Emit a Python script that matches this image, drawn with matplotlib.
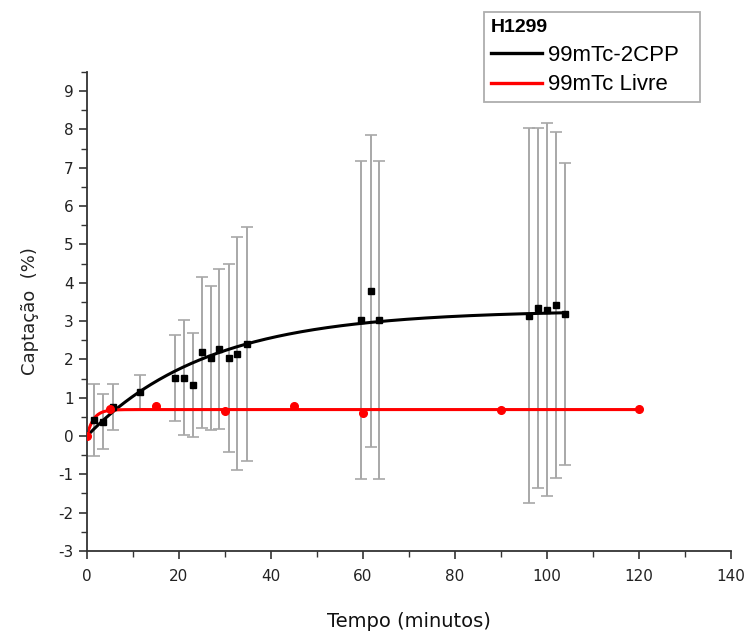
import matplotlib
matplotlib.use('Agg')
import matplotlib.pyplot as plt
import numpy as np
from matplotlib.lines import Line2D
from matplotlib.ticker import MultipleLocator

plt.rcParams['axes.unicode_minus'] = False

# 99mTc-2CPP: tempo, media e desvio
t_cpp = [1.5, 3.5, 5.7, 11.5, 19.1, 21.1, 23.0, 25.0, 27.0, 28.7, 30.9, 32.6, 34.8,
         59.6, 61.7, 63.5, 96.1, 98.1, 100.0, 102.0, 103.9]
y_cpp = [0.42, 0.37, 0.75, 1.15, 1.52, 1.52, 1.33, 2.18, 2.03, 2.27, 2.03, 2.15, 2.40,
         3.03, 3.78, 3.03, 3.14, 3.34, 3.30, 3.42, 3.18]
e_cpp = [0.95, 0.72, 0.60, 0.44, 1.12, 1.50, 1.36, 1.98, 1.88, 2.10, 2.45, 3.05, 3.05,
         4.14, 4.07, 4.14, 4.90, 4.71, 4.87, 4.52, 3.94]

# 99mTc livre
t_livre = [0, 5, 15, 30, 45, 60, 90, 120]
y_livre = [0.0, 0.70, 0.78, 0.65, 0.78, 0.60, 0.68, 0.70]

# parametros do ajuste exponencial y = A*(1-exp(-k t))
ajuste_cpp = (3.28, 0.038)
ajuste_livre = (0.69, 0.70)


def curva(t, p):
    return p[0] * (1 - np.exp(-p[1] * t))


fig = plt.figure(figsize=(7.46, 6.34), dpi=100)
ax = fig.add_axes([0.1166, 0.131, 0.8634, 0.7554])

ax.errorbar(t_cpp, y_cpp, yerr=e_cpp, fmt='none', ecolor='#a8a8a8', elinewidth=1.4,
            capsize=4, capthick=1.2, zorder=1)
ax.plot(t_cpp, y_cpp, 's', color='black', ms=5, zorder=3)
tt = np.linspace(0, max(t_cpp), 300)
ax.plot(tt, curva(tt, ajuste_cpp), color='black', lw=2.2, zorder=2)

ax.plot(t_livre, y_livre, 'o', color='red', ms=5.5, zorder=3)
tt2 = np.linspace(0, max(t_livre), 600)
ax.plot(tt2, curva(tt2, ajuste_livre), color='red', lw=2.2, zorder=2)

ax.set_xlim(0, 140)
ax.set_ylim(-3, 9.5)
ax.xaxis.set_major_locator(MultipleLocator(20))
ax.xaxis.set_minor_locator(MultipleLocator(10))
ax.yaxis.set_major_locator(MultipleLocator(1))
ax.yaxis.set_minor_locator(MultipleLocator(0.5))
for s in ['top', 'right']:
    ax.spines[s].set_visible(False)
for s in ['left', 'bottom']:
    ax.spines[s].set_color('#333333')
    ax.spines[s].set_linewidth(1.3)
ax.tick_params(which='major', direction='out', length=6, width=1.2, color='#333333',
               labelsize=11, labelcolor='#222222')
ax.tick_params(axis='x', which='major', pad=7)
ax.tick_params(which='minor', direction='out', length=4, width=1.0, color='#333333')
ax.set_yticks(np.arange(-3, 10, 1))

ax.set_xlabel('Tempo (minutos)', fontsize=14, labelpad=20, color='#111111')
ax.set_ylabel('Captação  (%)', fontsize=13, labelpad=14, color='#222222')

handles = [Line2D([], [], color='black', lw=2.4), Line2D([], [], color='red', lw=2.4)]
leg = fig.legend(handles, ['99mTc-2CPP', '99mTc Livre'], title='H1299',
                 loc='upper left', bbox_to_anchor=(484 / 746, 1 - 101 / 634, 216 / 746, 89 / 634),
                 mode='expand',
                 prop={'family': 'Liberation Sans', 'size': 16},
                 title_fontproperties={'family': 'Liberation Sans', 'weight': 'bold', 'size': 14},
                 alignment='left', fancybox=False, edgecolor='#999999',
                 handlelength=2.3, handletextpad=0.3, borderpad=0.3,
                 labelspacing=0.4, borderaxespad=0)
leg.get_frame().set_linewidth(1.3)

fig.savefig('out.png', dpi=100)
